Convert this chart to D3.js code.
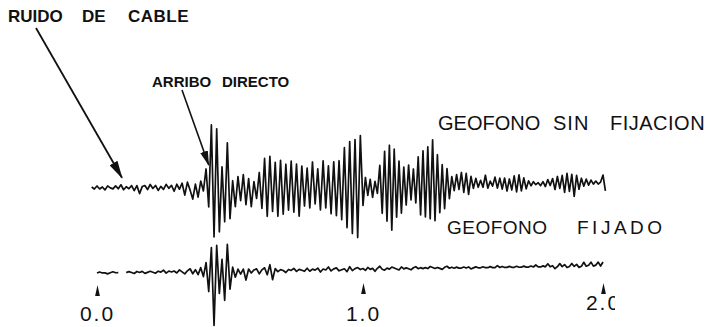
<!DOCTYPE html>
<html>
<head>
<meta charset="utf-8">
<script src="https://cdn.jsdelivr.net/npm/d3@7"></script>
<style>
  html, body { margin: 0; padding: 0; background: #fff; }
  svg { display: block; }
  .lbl { font-family: "Liberation Sans", Arial, sans-serif; fill: #111; }
  .bold { font-weight: bold; }
</style>
</head>
<body>
<svg id="chart" width="711" height="327"></svg>
<script>
// time axis, seconds
const tickValues = [0, 1, 2];
const dt = 0.01;

// geofono sin fijacion (amplitude), first sample at t = -0.02
const sinFijacionStart = -0.02;
const sinFijacion = [
  1, -1, 2, -1, 1, -2, 2, 0, -1, 2,
  -1, 3, -2, 1, -1, 2, -3, 2, -6, 1,
  2, -2, 3, -1, 2, -3, 1, -2, 3, -1,
  2, -4, 3, -2, 4, -8, 5, -3, -12, 3,
  -10, 6, -4, 18, -20, 62, -50, 58, -45, 20,
  -35, 44, -32, 6, -20, 10, -14, 12, -18, 8,
  -20, 5, -12, 14, -22, 28, -30, 30, -25, 24,
  -30, 26, -28, 22, -24, 25, -26, 22, -30, 20,
  -20, 18, -22, 24, -18, 17, -24, 25, -22, 20,
  -28, 24, -30, 25, -34, 38, -42, 44, -48, 46,
  -52, 50, -20, 8, -10, 6, -12, 4, -8, 20,
  -28, 34, -36, 40, -45, 36, -32, 24, -28, 18,
  -20, 20, -15, 16, -18, 28, -30, 34, -32, 38,
  -34, 45, -36, 30, -28, 20, -24, 16, -14, 8,
  -6, 10, -5, 12, -8, 11, -10, 8, -4, 6,
  -3, 4, -3, 9, -4, 3, -2, 7, -4, 6,
  -5, 6, -7, 5, -6, 8, -8, 9, -7, 6,
  -5, 3, -2, 2, -1, 1, -2, 2, -3, 4,
  -2, 5, -6, 7, -5, 8, -9, 10, -8, 9,
  -13, 8, -6, 5, -3, 4, -2, 3, -1, 2,
  -1, 1, 8, -8
];

// geofono fijado, first sample at t = 0 (null = pen gap)
const fijadoStart = 0;
const fijado = [
  0, 1, 0, 0, -1, 0, 1, 0, 0, null,
  null, 0, 1, 0, -1, 1, 0, 1, -1, 0,
  1, 0, -1, 1, 0, 2, -1, 1, 0, 1,
  -1, 2, 0, -2, 1, 3, -2, 2, -3, 4,
  -5, 9, -20, 24, -54, 26, -22, 12, -29, 27,
  -18, 4, -6, 2, -3, 2, -9, 2, -2, 1,
  2, -3, 1, 3, -4, 6, -9, 2, -1, 1,
  0, -2, 1, 0, 2, -1, 1, 0, -1, 2,
  -1, 1, 0, 2, -2, 1, 0, 3, -1, 1,
  2, -1, 0, 1, -2, 3, -1, 1, 2, 0,
  1, -1, 2, 0, 1, -2, 1, 3, 0, -1,
  1, 0, 2, 1, 0, -1, 2, 0, 1, 0,
  -1, 1, 2, 0, 1, 0, 1, 0, 2, 1,
  0, 1, 0, -1, 1, 2, 0, 1, 0, 1,
  0, 0, 1, 0, 1, -1, 0, 1, 0, 0,
  1, 0, 0, 1, 0, 0, 2, 0, 1, 0,
  0, 1, 0, 0, 1, 0, 0, 1, 0, 0,
  1, 0, 2, 0, 0, 1, 0, 3, 0, 1,
  -2, 0, 3, 0, 2, -1, 0, 3, 0, 2,
  -1, 0, 4, 0, 1, 4, 0, 1, 4, 0,
  4
];

// annotation targets (time, amplitude on the upper trace)
const ruidoTarget = [0.094, 10];
const arriboTarget = [0.42, 22];

const svg = d3.select('#chart');

// the hand-drawn time axis is not quite uniform
const x = d3.scaleLinear().domain([0, 1, 2]).range([97, 363, 603]);
const amp = d3.scaleLinear().domain([-60, 60]).range([60, -60]);
// slight tilt of both baselines in the scan
const topBase = d3.scaleLinear().domain([0, 2]).range([188, 183]);
const botBase = d3.scaleLinear().domain([0, 2]).range([273, 266]);

function toPoints(values, start) {
  return values.map((v, i) => ({ t: start + i * dt, v: v }));
}

function drawTrace(values, start, base) {
  const line = d3.line()
    .defined(d => d.v != null)
    .x(d => x(d.t))
    .y(d => base(d.t) + amp(d.v));
  svg.append('path')
    .datum(toPoints(values, start))
    .attr('d', line)
    .style('fill', 'none')
    .style('stroke', '#111')
    .style('stroke-width', 1.7)
    .style('stroke-linejoin', 'round');
}

drawTrace(sinFijacion, sinFijacionStart, topBase);
drawTrace(fijado, fijadoStart, botBase);

// arrowheads
const defs = svg.append('defs');
defs.append('marker')
  .attr('id', 'head-big')
  .attr('markerUnits', 'userSpaceOnUse')
  .attr('markerWidth', 18).attr('markerHeight', 9)
  .attr('refX', 17).attr('refY', 4.5)
  .attr('orient', 'auto')
  .append('path').attr('d', 'M0,0 L18,4.5 L0,9 Z').style('fill', '#111');
defs.append('marker')
  .attr('id', 'head-small')
  .attr('markerUnits', 'userSpaceOnUse')
  .attr('markerWidth', 15).attr('markerHeight', 8)
  .attr('refX', 14).attr('refY', 4)
  .attr('orient', 'auto')
  .append('path').attr('d', 'M0,0 L15,4 L0,8 Z').style('fill', '#111');

svg.append('line')
  .attr('x1', 36).attr('y1', 28)
  .attr('x2', x(ruidoTarget[0])).attr('y2', topBase(ruidoTarget[0]) + amp(ruidoTarget[1]))
  .style('stroke', '#111').style('stroke-width', 1.8)
  .attr('marker-end', 'url(#head-big)');

svg.append('line')
  .attr('x1', 182).attr('y1', 90)
  .attr('x2', x(arriboTarget[0])).attr('y2', topBase(arriboTarget[0]) + amp(arriboTarget[1]))
  .style('stroke', '#111').style('stroke-width', 1.6)
  .attr('marker-end', 'url(#head-small)');

// labels, each word placed where the lettering sits
function label(words, xs, y, size, cls, spacing) {
  const t = svg.append('text').attr('class', cls)
    .attr('y', y)
    .style('font-size', size + 'px');
  words.forEach((w, i) => {
    t.append('tspan').attr('x', xs[i]).style('letter-spacing', (spacing[i] || 0) + 'px').text(w);
  });
}

label(['RUIDO', 'DE', 'CABLE'], [8, 82, 128], 22, 17, 'lbl bold', [0, 0, 0.5]);
label(['ARRIBO', 'DIRECTO'], [152, 222], 87, 15, 'lbl bold', [0, 0]);
label(['GEOFONO', 'SIN', 'FIJACION'], [438, 553, 610], 130, 20, 'lbl', [0, 1, 0.5]);
label(['GEOFONO', 'FIJADO'], [447, 577], 234, 19, 'lbl', [0.5, 3.5]);

// time axis: arrow ticks and labels only
defs.append('clipPath').attr('id', 'page-clip')
  .append('rect').attr('x', 0).attr('y', -20).attr('width', 615).attr('height', 80);

const axis = d3.axisBottom(x)
  .tickValues(tickValues)
  .tickSize(0)
  .tickPadding(0)
  .tickFormat(d3.format('.1f'));

const axisG = svg.append('g')
  .attr('transform', 'translate(0,283)')
  .attr('clip-path', 'url(#page-clip)')
  .call(axis);
axisG.select('.domain').remove();
axisG.selectAll('.tick').append('path')
  .attr('d', 'M0,0 L2.4,11 L-2.4,11 Z')
  .attr('transform', (d, i) => i === 0 ? 'translate(0,2)' : null)
  .style('fill', '#111');
axisG.selectAll('.tick text')
  .attr('y', (d, i) => i === 2 ? 27 : 38)
  .attr('dy', 0)
  .style('font-family', '"Liberation Sans", Arial, sans-serif')
  .style('font-size', '21px')
  .style('letter-spacing', '2px')
  .style('fill', '#111');
</script>
</body>
</html>
